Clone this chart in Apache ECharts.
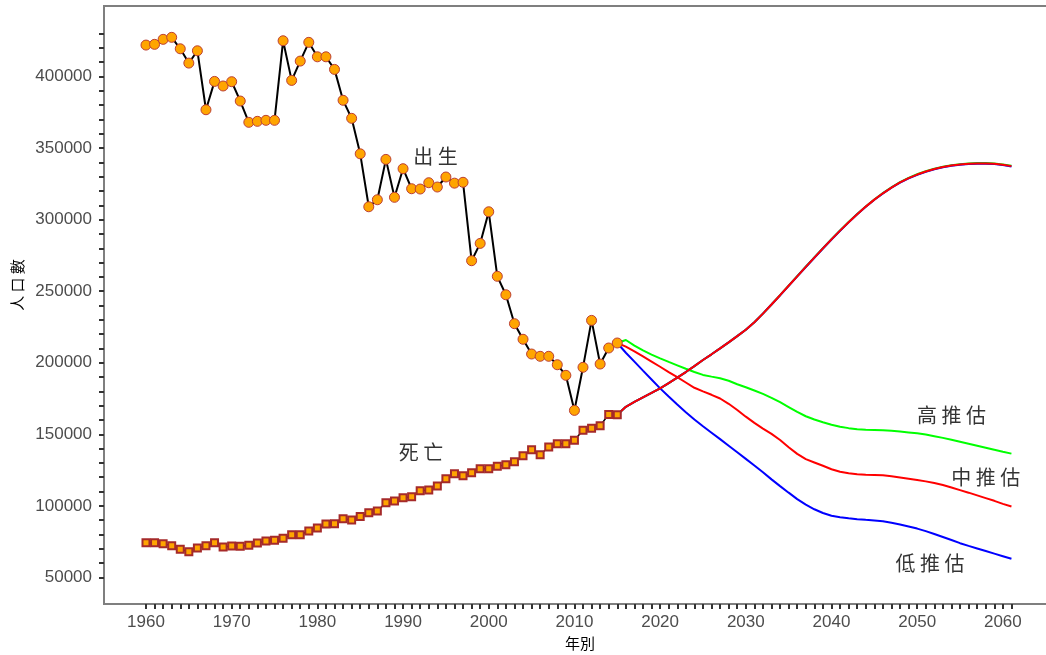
<!DOCTYPE html>
<html>
<head>
<meta charset="utf-8">
<script src="https://cdn.jsdelivr.net/npm/echarts@6/dist/echarts.min.js"></script>
<style>
  html, body { margin: 0; padding: 0; background: #ffffff; }
  #chart { width: 1046px; height: 655px; }
</style>
</head>
<body>
<div id="chart"></div>
<script>
// Registered births and deaths, one value per year starting at histStart
const histStart = 1960;
const births = [
  422000, 422500, 426000, 427400, 419400, 409400, 418000, 376800, 396600, 393400,
  396400, 382900, 368000, 368700, 369400, 369400, 425000, 397300, 410800, 423900,
  413800, 413800, 405000, 383400, 370800, 346000, 309000, 313900, 342100, 315600,
  335600, 321600, 321400, 325800, 322800, 329800, 325500, 326100, 271300, 283400,
  305500, 260400, 247500, 227300, 216400, 206100, 204500, 204500, 198600, 191200,
  166700, 196800, 229600, 199100, 210300, 213800
];
const deaths = [
  74200, 74200, 73500, 72100, 69600, 67900, 70500, 72100, 74200, 71200,
  71900, 71700, 72400, 74000, 75400, 75900, 77300, 79800, 79800, 82400,
  84500, 87300, 87500, 91000, 90100, 92500, 95200, 96400, 102200, 103400,
  105700, 106400, 110600, 111000, 113800, 118900, 122400, 121000, 123100, 125900,
  125900, 127600, 128700, 130800, 135000, 139200, 135700, 141100, 143400, 143400,
  145800, 152800, 154200, 156000, 163900, 163700
];

// Projection scenarios, one value per year starting at projStart
const projStart = 2015;
const birthHigh = [
  213800, 215900, 212000, 208600, 205700, 203100, 200600, 198200, 195800, 193500,
  191500, 190300, 189200, 187400, 185000, 182900, 180600, 178200, 175500, 172400,
  169000, 165600, 162600, 160300, 158400, 156700, 155300, 154300, 153600, 153200,
  153000, 152800, 152400, 151900, 151300, 150700, 149800, 148700, 147500, 146200,
  144800, 143400, 142000, 140600, 139200, 137800, 136500
];
const birthMid = [
  213800, 211300, 208000, 204400, 200800, 197200, 193500, 189900, 186200, 182500,
  180000, 177600, 175000, 171300, 167000, 162300, 158000, 154000, 150300, 146000,
  141000, 136300, 132600, 130300, 128000, 125600, 123800, 122700, 122100, 121800,
  121600, 121300, 120600, 119800, 119000, 118100, 117100, 115900, 114500, 112800,
  111000, 109200, 107300, 105400, 103500, 101400, 99500
];
const birthLow = [
  213800, 207000, 200800, 194500, 188300, 182100, 176400, 170800, 165400, 160300,
  155600, 151100, 146600, 142000, 137400, 132800, 128200, 123500, 118500, 113800,
  109200, 104700, 100800, 97600, 95000, 93100, 92100, 91300, 90700, 90200,
  89800, 89200, 88200, 87000, 85600, 84100, 82300, 80300, 78200, 76100,
  73900, 72000, 70200, 68400, 66600, 64800, 63000
];
const deathHigh = [
  163700, 169200, 172600, 175800, 178900, 182100, 185800, 189600, 193500, 197600,
  201900, 205900, 210000, 214200, 218600, 223100, 228300, 234300, 240700, 247300,
  253900, 260500, 267100, 273600, 280000, 286300, 292400, 298300, 303900, 309200,
  314100, 318500, 322500, 326200, 329200, 331700, 333800, 335600, 337000, 338100,
  338800, 339300, 339500, 339500, 339200, 338500, 337600
];
const deathMid = [
  163700, 169200, 172600, 175800, 178900, 182100, 185800, 189600, 193500, 197600,
  201900, 205900, 210000, 214200, 218600, 223100, 228300, 234300, 240700, 247200,
  253800, 260400, 267000, 273500, 279900, 286200, 292300, 298200, 303800, 309100,
  314000, 318400, 322400, 326000, 329000, 331500, 333600, 335400, 336800, 337900,
  338600, 339100, 339300, 339300, 339000, 338300, 337400
];
const deathLow = [
  163700, 169200, 172600, 175800, 178900, 182100, 185800, 189600, 193500, 197600,
  201900, 205900, 210000, 214200, 218600, 223100, 228300, 234300, 240700, 247100,
  253700, 260300, 266900, 273400, 279800, 286100, 292200, 298100, 303700, 309000,
  313900, 318300, 322300, 325800, 328800, 331300, 333400, 335200, 336600, 337700,
  338400, 338900, 339100, 339100, 338800, 338100, 337200
];

// Axis ticks and labels
const yTicks = [
  50000, 60000, 70000, 80000, 90000, 100000, 110000, 120000, 130000, 140000,
  150000, 160000, 170000, 180000, 190000, 200000, 210000, 220000, 230000, 240000,
  250000, 260000, 270000, 280000, 290000, 300000, 310000, 320000, 330000, 340000,
  350000, 360000, 370000, 380000, 390000, 400000, 410000, 420000, 430000
];
const yLabels = [50000, 100000, 150000, 200000, 250000, 300000, 350000, 400000];
const xTickFirst = 1960;
const xTickLast = 2061;
const xLabels = [1960, 1970, 1980, 1990, 2000, 2010, 2020, 2030, 2040, 2050, 2060];

// Text notes placed in data coordinates: [text, year, value]
const notes = [
  ['出 生', 1993.8, 344400],
  ['死 亡', 1992.1, 137600],
  ['高 推 估', 2054.0, 163500],
  ['中 推 估', 2058.0, 120100],
  ['低 推 估', 2051.5, 60000]
];

function pairs(start, values) {
  return values.map(function (v, i) { return [start + i, v]; });
}
const xTicks = [];
for (let y = xTickFirst; y <= xTickLast; y++) xTicks.push(y);

const tickStyle = { color: '#333333', width: 2 };
const labelFont = 'Liberation Sans, Arial, sans-serif';
const cjkFont = 'Noto Sans CJK TC, sans-serif';

function projLine(name, values, color) {
  return {
    name: name, type: 'line', data: pairs(projStart, values),
    symbol: 'none', smooth: false,
    lineStyle: { color: color, width: 2 },
    itemStyle: { color: color },
    silent: true
  };
}

const chart = echarts.init(document.getElementById('chart'), null, { renderer: 'canvas' });
chart.setOption({
  animation: false,
  backgroundColor: '#ffffff',
  grid: {
    left: 104, top: 6, right: -10, bottom: 51,
    show: true, borderColor: '#7f7f7f', borderWidth: 2,
    containLabel: false, outerBoundsMode: 'none'
  },
  xAxis: {
    type: 'value', min: 1955.1, max: 2066.2,
    axisLine: { show: false },
    splitLine: { show: false },
    axisTick: { show: true, length: 5, customValues: xTicks, lineStyle: tickStyle },
    axisLabel: {
      customValues: xLabels, color: '#4d4d4d', fontSize: 17,
      fontFamily: labelFont, margin: 10,
      formatter: function (v) { return String(v); }
    },
    name: '年別', nameLocation: 'middle', nameGap: 32,
    nameTextStyle: { fontFamily: cjkFont, fontSize: 15, color: '#000000' }
  },
  yAxis: {
    type: 'value', min: 31400, max: 449300,
    axisLine: { show: false },
    splitLine: { show: false },
    axisTick: { show: true, length: 5, customValues: yTicks, lineStyle: tickStyle },
    axisLabel: {
      customValues: yLabels, color: '#4d4d4d', fontSize: 17,
      fontFamily: labelFont, margin: 12,
      formatter: function (v) { return String(v); }
    },
    name: '人 口 數', nameLocation: 'middle', nameGap: 78, nameRotate: 90,
    nameTextStyle: { fontFamily: cjkFont, fontSize: 15, color: '#000000', padding: [0, 0, 0, 40] }
  },
  series: [
    {
      name: '出生', type: 'line', data: pairs(histStart, births),
      symbol: 'circle', symbolSize: 10, showAllSymbol: true,
      lineStyle: { color: '#000000', width: 2 },
      itemStyle: { color: '#FFA500', borderColor: '#BC3F35', borderWidth: 1 },
      silent: true
    },
    {
      name: '死亡', type: 'line', data: pairs(histStart, deaths),
      symbol: 'rect', symbolSize: 7, showAllSymbol: true,
      lineStyle: { color: '#000000', width: 1.5 },
      itemStyle: { color: '#FFA500', borderColor: '#A52A2A', borderWidth: 2 },
      silent: true
    },
    projLine('出生高推估', birthHigh, '#00FF00'),
    projLine('出生中推估', birthMid, '#FF0000'),
    projLine('出生低推估', birthLow, '#0000FF'),
    projLine('死亡高推估', deathHigh, '#00FF00'),
    projLine('死亡低推估', deathLow, '#0000FF'),
    projLine('死亡中推估', deathMid, '#FF0000'),
    {
      name: 'notes', type: 'scatter', symbolSize: 0, silent: true,
      data: notes.map(function (n) { return { value: [n[1], n[2]], text: n[0] }; }),
      label: {
        show: true, position: 'inside', color: '#000000',
        fontFamily: cjkFont, fontSize: 20,
        formatter: function (p) { return p.data.text; }
      }
    }
  ]
});
</script>
</body>
</html>
